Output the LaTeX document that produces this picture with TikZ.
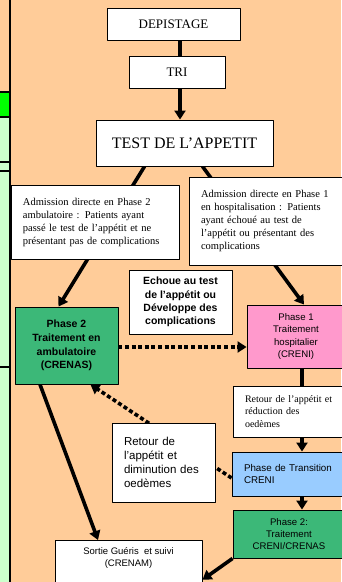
\documentclass[tikz,border=0pt]{standalone}
\usepackage{fontspec}
\setmainfont{Liberation Serif}
\setsansfont{Liberation Sans}
\usetikzlibrary{arrows.meta}
\definecolor{peche}{RGB}{255,204,153}
\definecolor{vertfonce}{RGB}{60,184,120}
\definecolor{rose}{RGB}{255,153,204}
\definecolor{bleu}{RGB}{153,204,255}
\definecolor{vertclair}{RGB}{204,255,204}
\definecolor{vertvif}{RGB}{0,255,0}
\pgfdeclarelayer{fond}
\pgfdeclarelayer{liens}
\pgfsetlayers{fond,liens,main}
\begin{document}
\begin{tikzpicture}[x=1pt, y=-1pt, line join=round,
	boite/.style={draw, line width=0.9pt, fill=white, inner sep=0pt},
	serif/.style={font=\fontsize{10.5}{13}\selectfont, align=left},
	sans/.style={font=\sffamily\fontsize{9.6}{12}\selectfont, align=center},
	lien/.style={line width=3.6pt},
	fleche/.style={lien, -{Triangle[length=9pt,width=11pt]}},
	pointille/.style={fleche, dash pattern=on 4pt off 2.6pt}]
	\useasboundingbox (0,0) rectangle (341,582);
	\begin{pgfonlayer}{fond}
		\fill[peche] (0,0) rectangle (341,582);
		\fill[vertvif] (0,92) rectangle (9,117);
		\fill[vertclair] (0,117) rectangle (9,582);
		\foreach \y in {92,117,162,171,367}
			\draw[line width=1.2pt] (0,\y) -- (9,\y);
		\draw[line width=2pt] (9.5,0) -- (9.5,582);
	\end{pgfonlayer}
	
	% boites
	\node[boite, minimum width=133pt, minimum height=32pt, font=\fontsize{13}{15}\selectfont] (dep) at (173.5,24) {DEPISTAGE};
	\node[boite, minimum width=96pt, minimum height=32pt, font=\fontsize{13}{15}\selectfont] (tri) at (177,72) {TRI};
	\node[boite, minimum width=177pt, minimum height=46pt, font=\fontsize{16}{18}\selectfont] (test) at (184.5,143) {TEST DE L’APPETIT};
	\node[boite, serif, minimum width=168pt, minimum height=74pt, text width=144pt] (admA) at (95,222)
		{Admission directe en Phase 2\\ambulatoire : Patients ayant\\passé le test de l’appétit et ne\\présentant pas de complications};
	\node[boite, serif, minimum width=156pt, minimum height=88pt, text width=132pt] (admB) at (267,221)
		{Admission directe en Phase 1\\en hospitalisation : Patients\\ayant échoué au test de\\l’appétit ou présentant des\\complications};
	\node[boite, font=\sffamily\bfseries\fontsize{10.5}{13.3}\selectfont, align=center, minimum width=103pt, minimum height=64pt] (echoue) at (180.5,302)
		{Echoue au test\\de l’appétit ou\\Développe des\\complications};
	\node[boite, fill=vertfonce, font=\sffamily\bfseries\fontsize{10.5}{13.7}\selectfont, align=center, minimum width=103pt, minimum height=77pt] (ph2) at (66.5,345.5)
		{Phase 2\\Traitement en\\ambulatoire\\(CRENAS)};
	\node[boite, fill=rose, sans, font=\sffamily\fontsize{9.6}{12.6}\selectfont, minimum width=98pt, minimum height=63pt] (ph1) at (296,336.5)
		{Phase 1\\Traitement\\hospitalier\\(CRENI)};
	\node[boite, serif, font=\fontsize{10}{12.7}\selectfont, minimum width=112pt, minimum height=51pt, text width=88pt] (retB) at (289,411.5)
		{Retour de l’appétit et\\réduction des\\oedèmes};
	\node[boite, font=\sffamily\fontsize{11.5}{14}\selectfont, align=left, minimum width=103pt, minimum height=79pt, text width=79pt] (retA) at (163.5,462.5)
		{Retour de\\l’appétit et\\diminution des\\oedèmes};
	\node[boite, fill=bleu, font=\sffamily\fontsize{9.8}{12}\selectfont, align=left, minimum width=113pt, minimum height=44pt, text width=89pt] (trans) at (288.5,474)
		{Phase de Transition\\CRENI};
	\node[boite, fill=vertfonce, sans, font=\sffamily\fontsize{9.6}{11.7}\selectfont, minimum width=112pt, minimum height=48pt] (ph2b) at (289,534)
		{Phase 2:\\Traitement\\CRENI/CRENAS};
	\node[boite, sans, font=\sffamily\fontsize{9.5}{11.7}\selectfont, anchor=north, minimum width=147pt, inner ysep=7pt, text depth=30pt] (sortie) at (128.5,540)
		{Sortie Guéris\ \ et suivi\\(CRENAM)};
	
	% liens
	\begin{pgfonlayer}{liens}
		\draw[lien] ([xshift=3pt]tri.north |- dep.south) -- ([xshift=3pt]tri.north);
		\draw[fleche] ([xshift=3pt]tri.south) -- ([xshift=3pt]tri.south |- test.north);
		\draw[fleche] ([xshift=-40pt]test.south) -- ([xshift=-8pt]ph2.north);
		\draw[fleche] ([xshift=18pt]test.south) -- ([xshift=8pt]ph1.north);
		\draw[pointille] ([yshift=-1.5pt]ph2.east) -- ([yshift=-1.5pt]ph2.east -| ph1.west);
		\draw[fleche] ([xshift=6pt]ph1.south) -- ([xshift=6pt]ph1.south |- trans.north);
		\draw[fleche] ([xshift=13.5pt]trans.south) -- ([xshift=13.5pt]trans.south |- ph2b.north);
		\draw[pointille] ([yshift=-4pt]trans.west) -- ([xshift=-28pt]ph2.south east);
		\draw[fleche] ([xshift=-26.5pt]ph2.south) -- ([xshift=-30.5pt]sortie.north);
		\draw[fleche] (ph2b.south west) -- ([yshift=-8pt]sortie.east);
	\end{pgfonlayer}
\end{tikzpicture}
\end{document}
